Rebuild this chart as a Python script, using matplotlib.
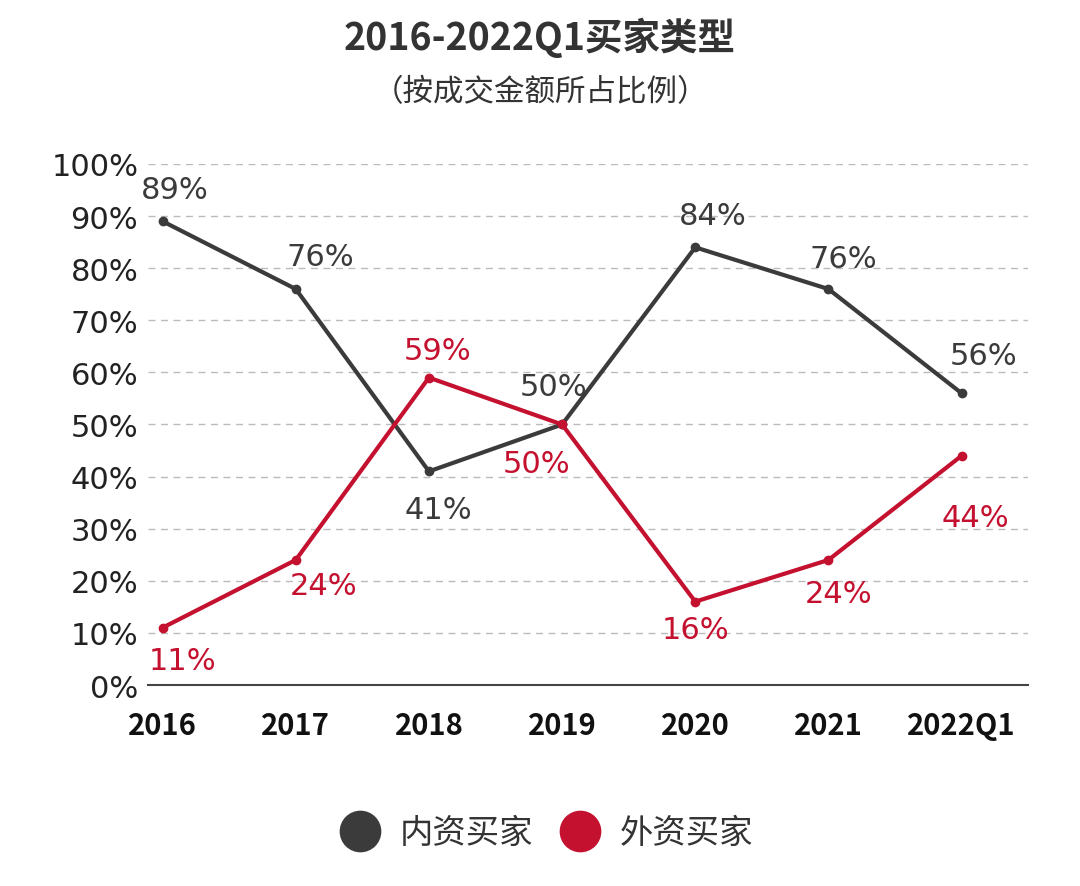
import matplotlib
matplotlib.use("Agg")
import matplotlib.pyplot as plt

plt.rcParams['font.family'] = ['Noto Sans CJK SC', 'DejaVu Sans']
num_font = ['DejaVu Sans', 'Noto Sans CJK SC']

# data
years = ['2016', '2017', '2018', '2019', '2020', '2021', '2022Q1']
domestic = [89, 76, 41, 50, 84, 76, 56]
foreign = [11, 24, 59, 50, 16, 24, 44]
yticks = [0, 10, 20, 30, 40, 50, 60, 70, 80, 90, 100]

dark = '#3b3b3b'
red = '#c4112f'

# label offsets in pixels (dx, dy)
dom_off = [(12, 32), (25, 33), (9, -38), (-9, 38), (17, 32), (15, 31), (22, 38)]
for_off = [(20, -33), (28, -26), (9, 27), (-26, -39), (0, -28), (10, -34), (14, -62)]

fig = plt.figure(figsize=(10.8, 8.87), dpi=100)
ax = fig.add_axes([0.137, 0.2266, 0.815, 0.5874])

x = list(range(len(years)))
ax.plot(x, domestic, color=dark, lw=3, marker='o', ms=6, zorder=3)
ax.plot(x, foreign, color=red, lw=3, marker='o', ms=6, zorder=4)

for i, v in enumerate(domestic):
    ax.annotate(f'{v}%', (i, v), xytext=dom_off[i], textcoords='offset pixels',
                ha='center', va='center', fontsize=22, color=dark, family=num_font)
for i, v in enumerate(foreign):
    ax.annotate(f'{v}%', (i, v), xytext=for_off[i], textcoords='offset pixels',
                ha='center', va='center', fontsize=22, color=red, family=num_font)

ax.set_xlim(-0.11, 6.5)
ax.set_ylim(0, 100)
ax.set_yticks(yticks)
ax.set_yticklabels([f'{t}%' for t in yticks], fontsize=22, color='#222222', family=num_font)
ax.set_xticks(x)
ax.set_xticklabels(years, fontsize=21, color='#111111', fontweight='bold')
ax.tick_params(length=0, pad=7)
ax.tick_params(axis='x', pad=18)
for t in yticks[1:]:
    ax.axhline(t, color='#bbbbbb', lw=1, ls=(0, (5, 4)), zorder=1)
for s in ['top', 'right', 'left']:
    ax.spines[s].set_visible(False)
ax.spines['bottom'].set_color('#444444')
ax.spines['bottom'].set_linewidth(1.5)

fig.text(0.5, 0.957, '2016-2022Q1买家类型', ha='center', va='center',
         fontsize=27, fontweight='bold', color='#333333')
fig.text(0.5, 0.896, '（按成交金额所占比例）', ha='center', va='center',
         fontsize=22, color='#333333')

# legend
h1, = ax.plot([], [], 'o', color=dark, ms=29)
h2, = ax.plot([], [], 'o', color=red, ms=29)
fig.legend([h1, h2], ['内资买家', '外资买家'], loc='center', bbox_to_anchor=(0.5, 0.06),
           ncol=2, frameon=False, fontsize=24, handletextpad=0.2, columnspacing=0.4,
           labelcolor='#333333')

fig.savefig('out.png', dpi=100)
